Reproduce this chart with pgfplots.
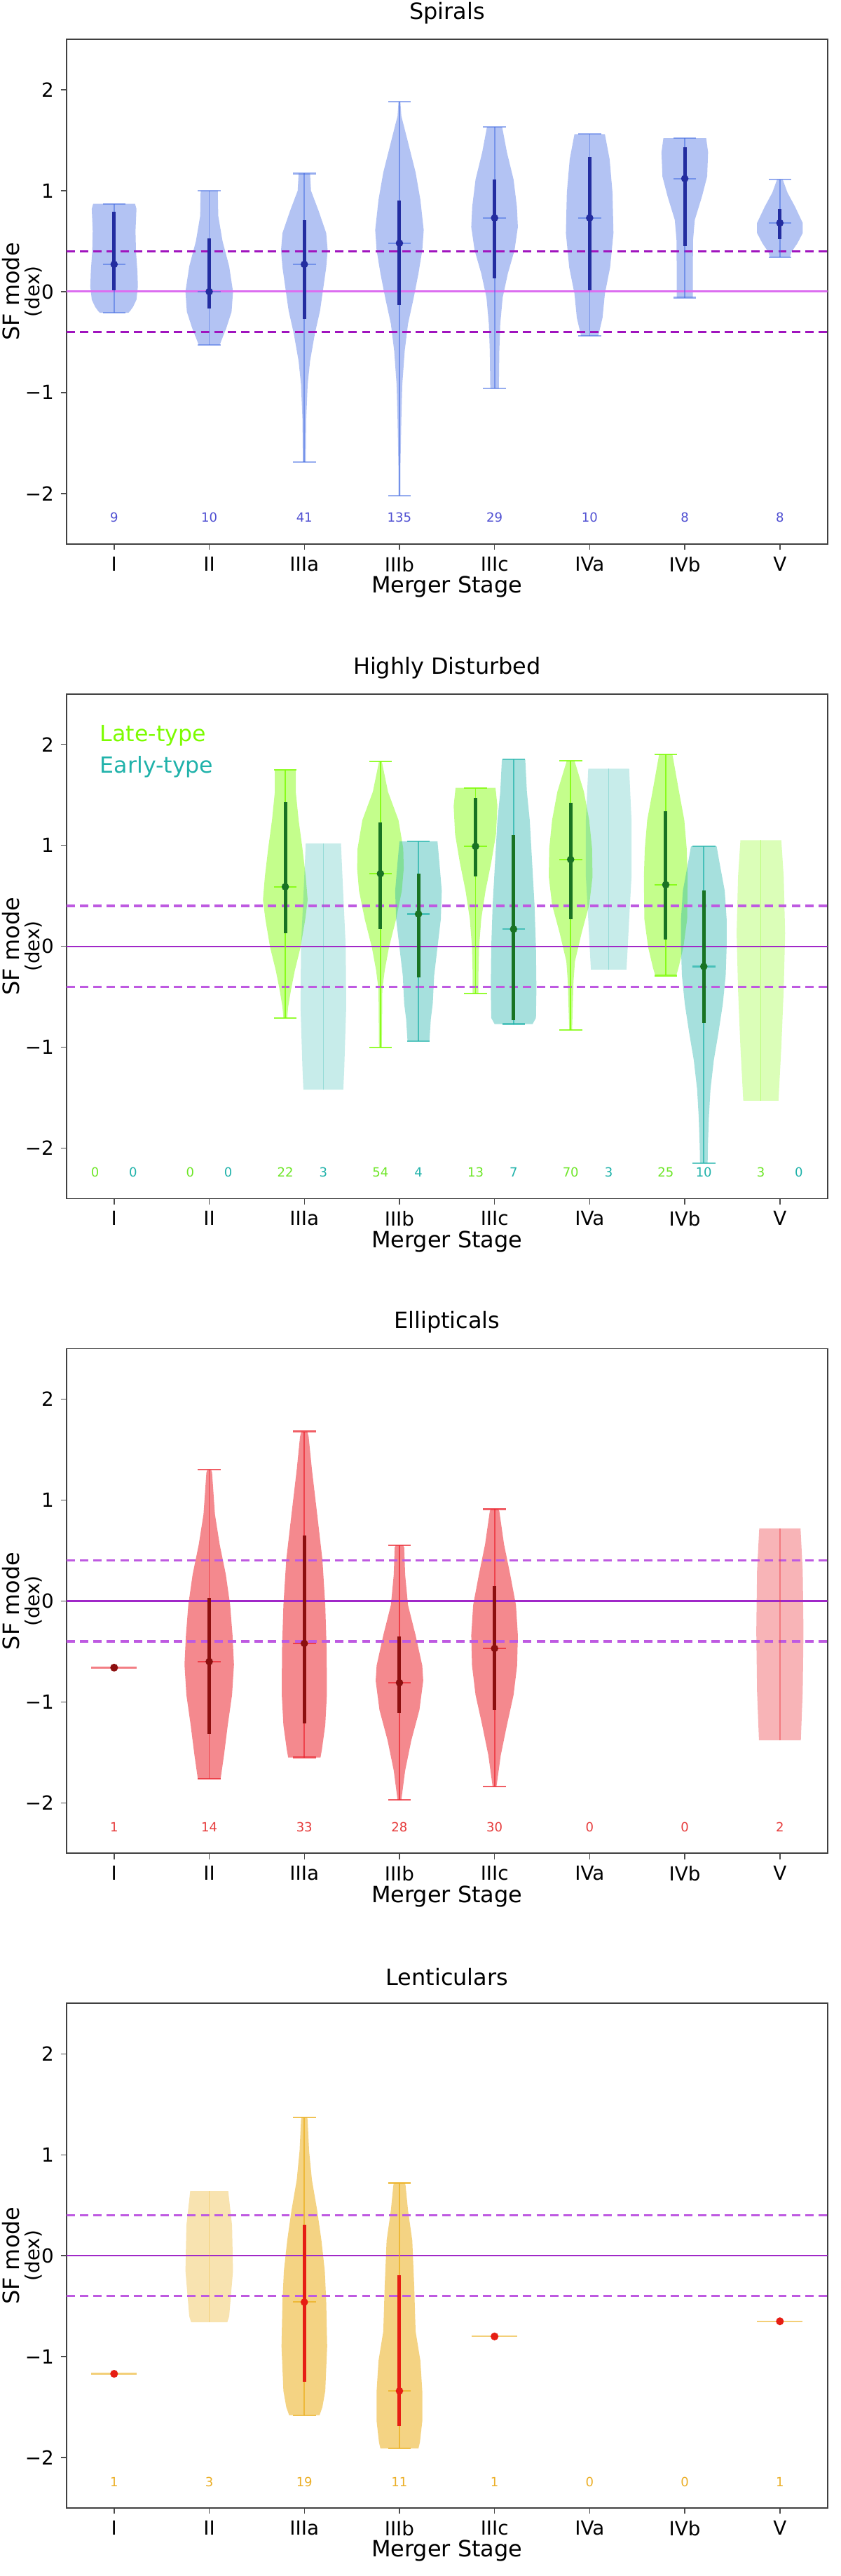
\documentclass[border=0pt]{standalone}
\usepackage{fontspec}
\setmainfont{DejaVu Sans}
\usepackage{pgfplots}
\usepackage{pgfplotstable}
\pgfplotsset{compat=1.18}

\definecolor{sblue}{RGB}{65,105,225}
\definecolor{sdark}{RGB}{35,45,160}
\definecolor{scount}{RGB}{80,80,210}
\definecolor{lgreen}{RGB}{124,252,0}
\definecolor{lcount}{RGB}{110,230,40}
\definecolor{eteal}{RGB}{32,178,170}
\definecolor{dgreen}{RGB}{25,115,35}
\definecolor{ered}{RGB}{235,40,50}
\definecolor{edark}{RGB}{140,15,15}
\definecolor{ecount}{RGB}{230,60,60}
\definecolor{lgold}{RGB}{235,175,30}
\definecolor{lred}{RGB}{230,30,20}
\definecolor{gcount}{RGB}{235,175,40}
\definecolor{zlineA}{RGB}{220,110,240}
\definecolor{dlineA}{RGB}{160,20,190}
\definecolor{zlineB}{RGB}{160,40,200}
\definecolor{dlineB}{RGB}{190,90,225}

% ---------------- Spirals profiles (y, half width) ----------------
\pgfplotstableread{
y w
0.87 0
0.87 0.22
0.82 0.235
0.6 0.225
0.4 0.23
0.2 0.245
0.05 0.25
-0.08 0.235
-0.15 0.2
-0.19 0.17
-0.21 0.15
-0.21 0
}\tbsI
\pgfplotstableread{
y w
1.0 0
1.0 0.09
0.75 0.095
0.5 0.14
0.25 0.21
0.0 0.25
-0.2 0.235
-0.36 0.18
-0.48 0.13
-0.53 0.11
-0.53 0
}\tbsII
\pgfplotstableread{
y w
1.17 0
1.17 0.06
1.0 0.07
0.8 0.15
0.58 0.23
0.41 0.245
0.24 0.23
0.04 0.2
-0.19 0.165
-0.42 0.11
-0.69 0.06
-0.92 0.035
-1.26 0.02
-1.69 0.015
-1.69 0
}\tbsIIIa
\pgfplotstableread{
y w
1.88 0
1.88 0.01
1.74 0.02
1.48 0.09
1.18 0.17
0.91 0.22
0.61 0.255
0.41 0.24
0.18 0.2
-0.06 0.15
-0.32 0.09
-0.59 0.055
-0.92 0.03
-1.26 0.02
-1.76 0.01
-2.02 0.01
-2.02 0
}\tbsIIIb
\pgfplotstableread{
y w
1.63 0
1.63 0.08
1.38 0.13
1.11 0.2
0.84 0.235
0.64 0.245
0.41 0.21
0.18 0.14
-0.06 0.085
-0.32 0.06
-0.59 0.05
-0.96 0.045
-0.96 0
}\tbsIIIc
\pgfplotstableread{
y w
1.56 0
1.56 0.16
1.31 0.21
0.98 0.24
0.58 0.25
0.24 0.215
-0.02 0.16
-0.26 0.135
-0.4 0.1
-0.44 0.09
-0.44 0
}\tbsIVa
\pgfplotstableread{
y w
1.52 0
1.52 0.225
1.38 0.245
1.14 0.235
0.94 0.18
0.71 0.105
0.51 0.087
0.24 0.085
-0.06 0.085
-0.06 0
}\tbsIVb
\pgfplotstableread{
y w
1.11 0
1.11 0.03
0.98 0.08
0.84 0.16
0.68 0.24
0.58 0.24
0.48 0.185
0.39 0.12
0.34 0.105
0.34 0
}\tbsV
\pgfplotstableread{
x med lo hi q1 q3
0 0.27 -0.21 0.87 0.01 0.79
1 0.00 -0.53 1.00 -0.17 0.53
2 0.27 -1.69 1.17 -0.27 0.71
3 0.48 -2.02 1.88 -0.13 0.90
4 0.73 -0.96 1.63 0.13 1.11
5 0.73 -0.44 1.56 0.01 1.33
6 1.12 -0.06 1.52 0.45 1.43
7 0.68 0.34 1.11 0.52 0.82
}\tbsStats
\pgfplotstableread{
x n
0 9
1 10
2 41
3 135
4 29
5 10
6 8
7 8
}\tbsN

% ---------------- Highly disturbed ----------------
\pgfplotstableread{
y w
1.75 0
1.75 0.11
1.53 0.11
1.25 0.14
0.97 0.18
0.69 0.215
0.46 0.235
0.27 0.21
-0.01 0.16
-0.24 0.1
-0.43 0.06
-0.6 0.03
-0.71 0.02
-0.71 0
}\tbhlIIIa
\pgfplotstableread{
y w
1.02 0
1.02 0.185
0.6 0.205
0.0 0.235
-0.6 0.24
-1.2 0.22
-1.42 0.21
-1.42 0
}\tbheIIIa
\pgfplotstableread{
y w
1.83 0
1.83 0.015
1.53 0.08
1.25 0.19
0.97 0.24
0.77 0.245
0.55 0.225
0.27 0.165
-0.01 0.09
-0.24 0.045
-0.43 0.02
-1.0 0.015
-1.0 0
}\tbhlIIIb
\pgfplotstableread{
y w
1.04 0
1.04 0.2
0.83 0.22
0.55 0.245
0.27 0.235
-0.01 0.2
-0.29 0.165
-0.57 0.15
-0.72 0.13
-0.94 0.115
-0.94 0
}\tbheIIIb
\pgfplotstableread{
y w
1.57 0
1.57 0.21
1.39 0.23
1.11 0.215
0.83 0.165
0.55 0.105
0.27 0.06
-0.01 0.037
-0.29 0.03
-0.47 0.03
-0.47 0
}\tbhlIIIc
\pgfplotstableread{
y w
1.85 0
1.85 0.123
1.53 0.14
1.25 0.17
0.83 0.195
0.41 0.22
-0.01 0.235
-0.43 0.24
-0.71 0.235
-0.77 0.2
-0.77 0
}\tbheIIIc
\pgfplotstableread{
y w
1.84 0
1.84 0.04
1.53 0.14
1.25 0.195
0.97 0.225
0.69 0.23
0.41 0.195
0.13 0.115
-0.15 0.045
-0.35 0.03
-0.83 0.015
-0.83 0
}\tbhlIVa
\pgfplotstableread{
y w
1.76 0
1.76 0.215
1.25 0.24
0.69 0.24
0.27 0.215
-0.01 0.2
-0.23 0.187
-0.23 0
}\tbheIVa
\pgfplotstableread{
y w
1.9 0
1.9 0.07
1.53 0.14
1.25 0.195
0.97 0.22
0.69 0.23
0.27 0.225
-0.01 0.185
-0.21 0.135
-0.29 0.11
-0.29 0
}\tbhlIVb
\pgfplotstableread{
y w
0.99 0
0.99 0.135
0.83 0.165
0.55 0.22
0.27 0.24
-0.01 0.24
-0.29 0.23
-0.57 0.2
-0.85 0.155
-1.13 0.105
-1.42 0.07
-1.7 0.053
-1.98 0.043
-2.15 0.04
-2.15 0
}\tbheIVb
\pgfplotstableread{
y w
1.05 0
1.05 0.215
0.69 0.24
0.13 0.255
-0.43 0.24
-1.0 0.215
-1.53 0.185
-1.53 0
}\tbhlV
\pgfplotstableread{
x med lo hi q1 q3
1.8 0.59 -0.71 1.75 0.13 1.43
2.8 0.72 -1.00 1.83 0.17 1.23
3.8 0.99 -0.47 1.57 0.69 1.47
4.8 0.86 -0.83 1.84 0.27 1.42
5.8 0.61 -0.29 1.90 0.07 1.34
}\tbhlStats
\pgfplotstableread{
x med lo hi q1 q3
3.2 0.32 -0.94 1.04 -0.31 0.72
4.2 0.17 -0.77 1.85 -0.73 1.10
6.2 -0.20 -2.15 0.99 -0.76 0.55
}\tbheStats
\pgfplotstableread{
x lo hi
6.8 -1.53 1.05
}\tbhlRect
\pgfplotstableread{
x lo hi
2.2 -1.42 1.02
5.2 -0.23 1.76
}\tbheRect
\pgfplotstableread{
x n
-0.2 0
0.8 0
1.8 22
2.8 54
3.8 13
4.8 70
5.8 25
6.8 3
}\tbhlN
\pgfplotstableread{
x n
0.2 0
1.2 0
2.2 3
3.2 4
4.2 7
5.2 3
6.2 10
7.2 0
}\tbheN

% ---------------- Ellipticals ----------------
\pgfplotstableread{
y w
1.30 0
1.30 0.02
1.27 0.03
0.86 0.06
0.56 0.11
0.26 0.175
-0.04 0.22
-0.34 0.245
-0.63 0.26
-0.93 0.24
-1.23 0.195
-1.53 0.155
-1.76 0.12
-1.76 0
}\tbeII
\pgfplotstableread{
y w
1.68 0
1.68 0.03
1.63 0.045
1.3 0.08
0.86 0.135
0.41 0.19
-0.04 0.22
-0.49 0.235
-0.93 0.237
-1.23 0.22
-1.47 0.185
-1.55 0.17
-1.55 0
}\tbeIIIa
\pgfplotstableread{
y w
0.55 0
0.55 0.04
0.53 0.05
0.26 0.06
-0.04 0.09
-0.34 0.17
-0.64 0.24
-0.79 0.25
-1.08 0.21
-1.38 0.125
-1.68 0.06
-1.97 0.02
-1.97 0
}\tbeIIIb
\pgfplotstableread{
y w
0.91 0
0.91 0.04
0.89 0.05
0.56 0.1
0.26 0.165
-0.04 0.225
-0.34 0.245
-0.64 0.237
-0.93 0.2
-1.23 0.13
-1.53 0.065
-1.84 0.02
-1.84 0
}\tbeIIIc
\pgfplotstableread{
y w
0.72 0
0.72 0.217
0.3 0.24
-0.3 0.248
-0.9 0.24
-1.38 0.22
-1.38 0
}\tbeV
\pgfplotstableread{
x med lo hi q1 q3
1 -0.60 -1.76 1.30 -1.32 0.03
2 -0.42 -1.55 1.68 -1.21 0.65
3 -0.81 -1.97 0.55 -1.11 -0.35
4 -0.47 -1.84 0.91 -1.08 0.15
}\tbeStats
\pgfplotstableread{
x med
0 -0.66
}\tbeSingle
\pgfplotstableread{
x lo hi
7 -1.38 0.72
}\tbeRect
\pgfplotstableread{
x n
0 1
1 14
2 33
3 28
4 30
5 0
6 0
7 2
}\tbeN

% ---------------- Lenticulars ----------------
\pgfplotstableread{
y w
0.64 0
0.64 0.2
0.3 0.24
-0.15 0.25
-0.6 0.21
-0.66 0.19
-0.66 0
}\tblII
\pgfplotstableread{
y w
1.37 0
1.37 0.03
1.34 0.035
1.04 0.05
0.75 0.08
0.45 0.135
0.15 0.18
-0.15 0.215
-0.45 0.23
-0.9 0.24
-1.34 0.22
-1.5 0.19
-1.58 0.16
-1.58 0
}\tblIIIa
\pgfplotstableread{
y w
0.72 0
0.72 0.06
0.69 0.065
0.45 0.09
0.15 0.135
-0.3 0.155
-0.75 0.17
-1.04 0.22
-1.34 0.24
-1.64 0.24
-1.85 0.215
-1.91 0.2
-1.91 0
}\tblIIIb
\pgfplotstableread{
x med lo hi q1 q3
2 -0.46 -1.58 1.37 -1.25 0.31
3 -1.34 -1.91 0.72 -1.69 -0.19
}\tblStats
\pgfplotstableread{
x med
0 -1.17
4 -0.80
7 -0.65
}\tblSingle
\pgfplotstableread{
x lo hi
1 -0.66 0.64
}\tblRect
\pgfplotstableread{
x n
0 1
1 3
2 19
3 11
4 1
5 0
6 0
7 1
}\tblN

% ---------------- helpers ----------------
\newcommand\violin[4]{%
  \addplot[draw=none, fill=#3, fill opacity=#4, forget plot] table[x expr={#2-\thisrow{w}}, y=y] {#1};
  \addplot[draw=none, fill=#3, fill opacity=#4, forget plot] table[x expr={#2+\thisrow{w}}, y=y] {#1};
}
\newcommand\reflines[4]{%
  \addplot[color=#1, line width=#2, forget plot] coordinates {(-0.5,0) (7.5,0)};
  \addplot[color=#3, line width=#4, dash pattern=on 4.3pt off 2.6pt, forget plot] coordinates {(-0.5,0.4) (7.5,0.4)};
  \addplot[color=#3, line width=#4, dash pattern=on 4.3pt off 2.6pt, forget plot] coordinates {(-0.5,-0.4) (7.5,-0.4)};
}
\pgfplotsset{errline/.style={draw=none, mark=none, forget plot}}
% #1 table, #2 light line colour, #3 dark colour, #4 opacity of light lines
\newcommand\stats[4]{%
  \addplot[errline, error bars/.cd, y dir=both, y explicit, error mark=none,
    error bar style={draw=#2, line width=0.6pt, opacity=#4}]
    table[x=x, y=med, y error plus expr={\thisrow{hi}-\thisrow{med}}, y error minus expr={\thisrow{med}-\thisrow{lo}}] {#1};
  \addplot[errline, error bars/.cd, x dir=both, x fixed=0.12, error mark=none,
    error bar style={draw=#2, line width=0.8pt, opacity=#4}] table[x=x, y=hi] {#1};
  \addplot[errline, error bars/.cd, x dir=both, x fixed=0.12, error mark=none,
    error bar style={draw=#2, line width=0.8pt, opacity=#4}] table[x=x, y=lo] {#1};
  \addplot[errline, error bars/.cd, x dir=both, x fixed=0.12, error mark=none,
    error bar style={draw=#2, line width=0.8pt, opacity=#4}] table[x=x, y=med] {#1};
  \addplot[errline, error bars/.cd, y dir=both, y explicit, error mark=none,
    error bar style={draw=#3, line width=1.8pt}]
    table[x=x, y=med, y error plus expr={\thisrow{q3}-\thisrow{med}}, y error minus expr={\thisrow{med}-\thisrow{q1}}] {#1};
  \addplot[only marks, mark=*, mark size=1.7pt, color=#3, forget plot] table[x=x, y=med] {#1};
}
% thin centre line of a few-point body
\newcommand\whisk[3]{%
  \addplot[errline, error bars/.cd, y dir=both, y explicit, error mark=none,
    error bar style={draw=#2, line width=0.5pt, opacity=#3}]
    table[x=x, y=lo, y error plus expr={\thisrow{hi}-\thisrow{lo}}, y error minus expr={0}] {#1};
}
% single value: horizontal line and dot
\newcommand\single[3]{%
  \addplot[errline, error bars/.cd, x dir=both, x fixed=0.24, error mark=none,
    error bar style={draw=#2, line width=0.8pt, opacity=0.6}] table[x=x, y=med] {#1};
  \addplot[only marks, mark=*, mark size=1.8pt, color=#3, forget plot] table[x=x, y=med] {#1};
}
\newcommand\counts[2]{%
  \addplot[draw=none, mark=none, forget plot, nodes near coords, point meta=explicit symbolic,
    nodes near coords style={font=\fontsize{6.5}{7}\selectfont, color=#2, anchor=center}]
    table[x=x, y expr=-2.24, meta=n] {#1};
}

\pgfplotsset{panel/.style={
  scale only axis, width=390.96pt, height=259.2pt,
  xmin=-0.5, xmax=7.5, ymin=-2.5, ymax=2.5,
  xtick={0,1,2,3,4,5,6,7}, xticklabels={I,II,IIIa,IIIb,IIIc,IVa,IVb,V},
  ytick={-2,-1,0,1,2}, yticklabels={−2,−1,0,1,2},
  tick align=outside, tick pos=left, major tick length=3pt,
  tick style={color=black!70, line width=0.5pt},
  axis line style={color=black!75, line width=0.6pt},
  tick label style={font=\fontsize{10}{12}\selectfont},
  xlabel={Merger Stage},
  xlabel style={font=\fontsize{11.5}{13}\selectfont, at={(axis description cs:0.5,-0.085)}, anchor=center},
  ylabel={SF mode\\{\fontsize{10}{10.5}\selectfont (dex)}},
  ylabel style={font=\fontsize{11.5}{10.5}\selectfont, align=center, at={(axis description cs:-0.0585,0.5)}, anchor=center},
  title style={font=\fontsize{11.5}{13}\selectfont, at={(axis description cs:0.5,1.029)}, anchor=center},
}}

\begin{document}
\begin{tikzpicture}
% ======== Spirals ========
\begin{axis}[panel, at={(0pt,0pt)}, title={Spirals}]
  \violin{\tbsI}{0}{sblue}{0.4}
  \violin{\tbsII}{1}{sblue}{0.4}
  \violin{\tbsIIIa}{2}{sblue}{0.4}
  \violin{\tbsIIIb}{3}{sblue}{0.4}
  \violin{\tbsIIIc}{4}{sblue}{0.4}
  \violin{\tbsIVa}{5}{sblue}{0.4}
  \violin{\tbsIVb}{6}{sblue}{0.4}
  \violin{\tbsV}{7}{sblue}{0.4}
  \reflines{zlineA}{1.1pt}{dlineA}{1.1pt}
  \stats{\tbsStats}{sblue}{sdark}{0.55}
  \counts{\tbsN}{scount}
\end{axis}
% ======== Highly Disturbed ========
\begin{axis}[panel, at={(0pt,-336.24pt)}, title={Highly Disturbed}]
  \violin{\tbhlIIIa}{1.8}{lgreen}{0.45}
  \violin{\tbhlIIIb}{2.8}{lgreen}{0.45}
  \violin{\tbhlIIIc}{3.8}{lgreen}{0.45}
  \violin{\tbhlIVa}{4.8}{lgreen}{0.45}
  \violin{\tbhlIVb}{5.8}{lgreen}{0.45}
  \violin{\tbhlV}{6.8}{lgreen}{0.28}
  \violin{\tbheIIIa}{2.2}{eteal}{0.25}
  \violin{\tbheIIIb}{3.2}{eteal}{0.4}
  \violin{\tbheIIIc}{4.2}{eteal}{0.4}
  \violin{\tbheIVa}{5.2}{eteal}{0.25}
  \violin{\tbheIVb}{6.2}{eteal}{0.4}
  \reflines{zlineB}{0.8pt}{dlineB}{1.2pt}
  \whisk{\tbhlRect}{lgreen}{0.35}
  \whisk{\tbheRect}{eteal}{0.3}
  \stats{\tbhlStats}{lgreen}{dgreen}{0.8}
  \stats{\tbheStats}{eteal}{dgreen}{0.7}
  \counts{\tbhlN}{lcount}
  \counts{\tbheN}{eteal}
  \node[anchor=west, text=lgreen, font=\fontsize{11.4}{13}\selectfont] at (axis cs:-0.22,2.09) {Late-type};
  \node[anchor=west, text=eteal, font=\fontsize{11.4}{13}\selectfont] at (axis cs:-0.22,1.78) {Early-type};
\end{axis}
% ======== Ellipticals ========
\begin{axis}[panel, at={(0pt,-672.48pt)}, title={Ellipticals}]
  \violin{\tbeII}{1}{ered}{0.55}
  \violin{\tbeIIIa}{2}{ered}{0.55}
  \violin{\tbeIIIb}{3}{ered}{0.55}
  \violin{\tbeIIIc}{4}{ered}{0.55}
  \violin{\tbeV}{7}{ered}{0.35}
  \reflines{zlineB}{0.8pt}{dlineB}{1.2pt}
  \whisk{\tbeRect}{ered}{0.4}
  \stats{\tbeStats}{ered}{edark}{0.75}
  \single{\tbeSingle}{ered}{edark}
  \counts{\tbeN}{ecount}
\end{axis}
% ======== Lenticulars ========
\begin{axis}[panel, at={(0pt,-1008.72pt)}, title={Lenticulars}]
  \violin{\tblII}{1}{lgold}{0.35}
  \violin{\tblIIIa}{2}{lgold}{0.55}
  \violin{\tblIIIb}{3}{lgold}{0.55}
  \reflines{zlineB}{0.8pt}{dlineB}{1.2pt}
  \whisk{\tblRect}{lgold}{0.4}
  \stats{\tblStats}{lgold}{lred}{0.75}
  \single{\tblSingle}{lgold}{lred}
  \counts{\tblN}{gcount}
\end{axis}
\pgfresetboundingbox
\useasboundingbox (-34.2pt,-1043.64pt) rectangle (397.8pt,279.36pt);
\end{tikzpicture}
\end{document}
